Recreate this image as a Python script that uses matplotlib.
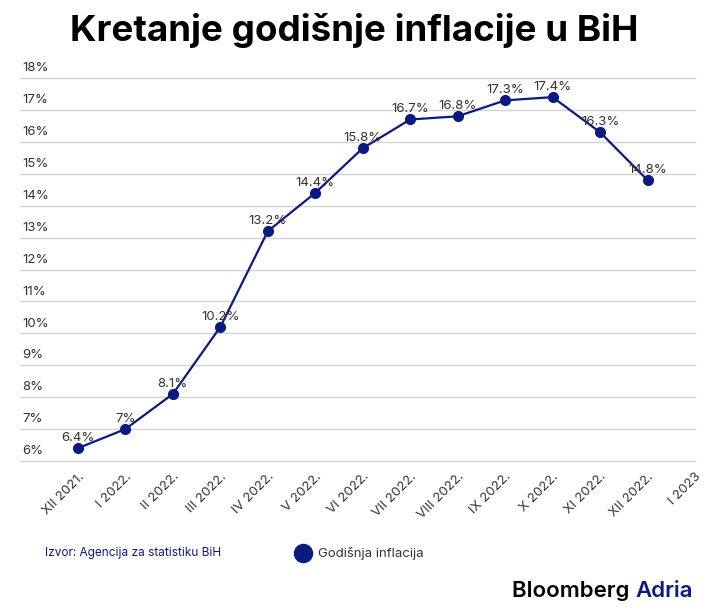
import matplotlib
matplotlib.use("Agg")
import matplotlib.pyplot as plt
from matplotlib.lines import Line2D

categories = ["XII 2021.", "I 2022.", "II 2022.", "III 2022.", "IV 2022.", "V 2022.",
              "VI 2022.", "VII 2022.", "VIII 2022.", "IX 2022.", "X 2022.", "XI 2022.",
              "XII 2022.", "I 2023"]
values = [6.4, 7.0, 8.1, 10.2, 13.2, 14.4, 15.8, 16.7, 16.8, 17.3, 17.4, 16.3, 14.8]
value_labels = ["6.4%", "7%", "8.1%", "10.2%", "13.2%", "14.4%", "15.8%", "16.7%",
                "16.8%", "17.3%", "17.4%", "16.3%", "14.8%"]
yticks = list(range(6, 19))
ytick_labels = [f"{t}%" for t in yticks]

NAVY = "#0b1a80"
GRAY = "#333333"
plt.rcParams['font.family'] = ['Inter', 'DejaVu Sans']

W, H = 708, 614
fig = plt.figure(figsize=(W / 100, H / 100), dpi=100)
fig.patch.set_facecolor("white")

left, right, top, bottom = 20, 695, 78, 461
ax = fig.add_axes([left / W, 1 - bottom / H, (right - left) / W, (bottom - top) / H])
ax.set_facecolor("white")

x = list(range(len(values)))
ax.plot(x, values, color=NAVY, lw=1.6, marker="o", ms=7, mfc=NAVY, mec=NAVY, zorder=3,
        clip_on=False)
for xi, v, lab in zip(x, values, value_labels):
    ax.annotate(lab, (xi, v), xytext=(0, 3), textcoords="offset points",
                ha="center", va="bottom", fontsize=9.5, color=GRAY, zorder=4)

ax.set_ylim(6, 18)
ax.set_xlim(-1.22, 12.55)
for t, lab in zip(yticks, ytick_labels):
    ax.axhline(t, color="#d4d4d4", lw=1.0, zorder=1, clip_on=False)
    ax.text(0.003, t + 0.12, lab, transform=ax.get_yaxis_transform(),
            ha="left", va="bottom", fontsize=9.5, color=GRAY)
ax.set_yticks([])
for s in ax.spines.values():
    s.set_visible(False)

ax.set_xticks(range(len(categories)))
ax.set_xticklabels(categories, rotation=45, ha="right", rotation_mode="anchor",
                   fontsize=9.5, color=GRAY)
ax.tick_params(axis="x", length=0, pad=7)

fig.text(0.5, 1 - 30 / H, "Kretanje godišnje inflacije u BiH", ha="center", va="center",
         fontsize=26.5, fontweight="bold", color="black")

fig.text(45 / W, 1 - 553 / H, "Izvor: Agencija za statistiku BiH", ha="left", va="center",
         fontsize=8.5, color=NAVY)
fig.add_artist(Line2D([303 / W], [1 - 553 / H], marker="o", ms=13, color=NAVY,
                      transform=fig.transFigure))
fig.text(318 / W, 1 - 553 / H, "Godišnja inflacija", ha="left", va="center",
         fontsize=9.5, color=GRAY)

t1 = fig.text(512 / W, 1 - 591 / H, "Bloomberg ", ha="left", va="center",
              fontsize=16, fontweight="semibold", color="black")
fig.canvas.draw()
bb = t1.get_window_extent()
fig.text(bb.x1 / W, 1 - 591 / H, "Adria", ha="left", va="center",
         fontsize=16, fontweight="semibold", color=NAVY)

fig.savefig("out.png", dpi=100, facecolor="white")
